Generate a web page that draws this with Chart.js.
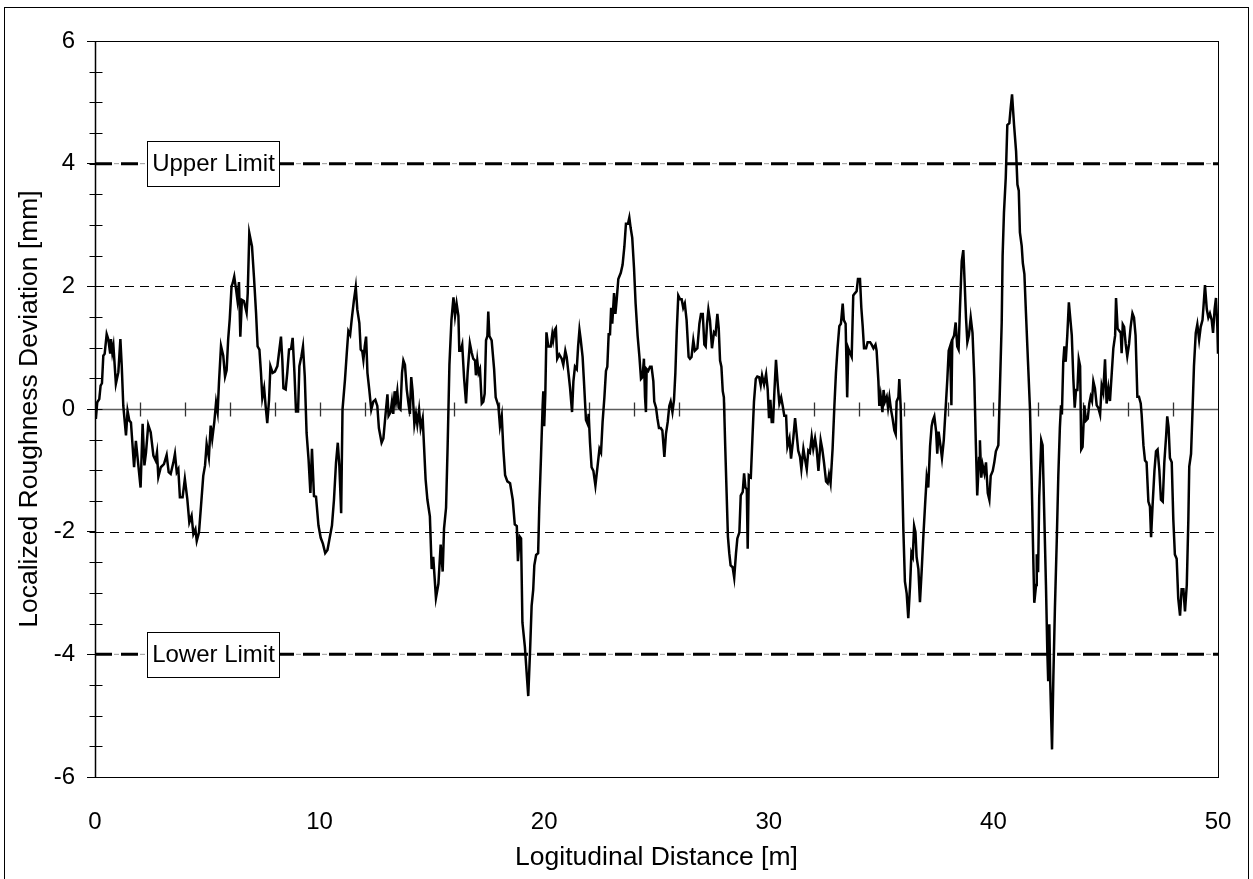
<!DOCTYPE html>
<html>
<head>
<meta charset="utf-8">
<title>Localized Roughness Deviation</title>
<script src="https://cdn.jsdelivr.net/npm/chart.js@4.4.1/dist/chart.umd.min.js"></script>
<style>
  html, body { margin: 0; padding: 0; background: #fff; }
  #wrap { position: relative; width: 1253px; height: 879px; overflow: hidden; }
  #roughChart { position: absolute; left: 0; top: 0; }
  #frame { position: absolute; left: 4px; top: 7px; width: 1245px; height: 900px;
           border: 1px solid #000; box-sizing: border-box; pointer-events: none; }
</style>
</head>
<body>
<div id="wrap">
  <canvas id="roughChart" width="1253" height="879"></canvas>
  <div id="frame"></div>
</div>
<script>
// profile: longitudinal distance [m] and localized roughness deviation [mm]
const distance = [
  0.00,0.04,0.10,0.19,0.25,0.31,0.37,0.43,0.52,0.59,
  0.67,0.71,0.77,0.82,0.93,1.04,1.13,1.19,1.26,1.38,
  1.45,1.53,1.60,1.74,1.82,1.93,2.03,2.12,2.20,2.27,
  2.37,2.48,2.60,2.70,2.76,2.82,2.93,3.07,3.19,3.28,
  3.37,3.49,3.56,3.64,3.71,3.78,3.90,4.00,4.11,4.20,
  4.30,4.38,4.47,4.53,4.63,4.72,4.82,4.90,4.97,5.07,
  5.15,5.22,5.31,5.39,5.46,5.52,5.61,5.71,5.79,5.86,
  5.93,6.00,6.08,6.13,6.20,6.28,6.34,6.41,6.47,6.54,
  6.63,6.75,6.80,6.87,6.93,6.99,7.08,7.17,7.24,7.32,
  7.39,7.45,7.53,7.60,7.67,7.75,7.81,7.91,8.01,8.12,
  8.21,8.28,8.34,8.39,8.49,8.56,8.64,8.73,8.80,8.88,
  8.95,9.04,9.10,9.19,9.26,9.34,9.42,9.51,9.59,9.66,
  9.75,9.84,9.95,10.05,10.15,10.25,10.35,10.45,10.55,10.64,
  10.73,10.81,10.88,10.96,11.02,11.13,11.21,11.28,11.36,11.43,
  11.53,11.61,11.68,11.77,11.83,11.90,11.95,12.01,12.07,12.13,
  12.21,12.30,12.39,12.48,12.57,12.64,12.76,12.84,12.93,13.02,
  13.07,13.16,13.22,13.28,13.34,13.40,13.46,13.52,13.60,13.67,
  13.73,13.80,13.88,13.97,14.02,14.08,14.14,14.22,14.29,14.35,
  14.43,14.50,14.59,14.65,14.72,14.80,14.91,14.99,15.06,15.18,
  15.29,15.39,15.48,15.54,15.63,15.70,15.78,15.87,15.96,16.03,
  16.10,16.18,16.22,16.28,16.35,16.43,16.52,16.59,16.69,16.77,
  16.84,16.92,16.96,17.02,17.08,17.14,17.22,17.29,17.35,17.41,
  17.47,17.51,17.56,17.66,17.77,17.84,17.96,18.03,18.11,18.18,
  18.26,18.36,18.48,18.60,18.69,18.78,18.83,18.91,18.97,19.03,
  19.14,19.29,19.37,19.44,19.51,19.56,19.64,19.73,19.78,19.86,
  19.93,19.96,20.00,20.05,20.10,20.18,20.29,20.36,20.40,20.47,
  20.52,20.58,20.67,20.78,20.85,20.94,21.00,21.08,21.15,21.24,
  21.30,21.37,21.45,21.51,21.57,21.62,21.71,21.77,21.86,21.94,
  21.98,22.04,22.11,22.19,22.28,22.37,22.46,22.53,22.60,22.68,
  22.75,22.81,22.87,22.93,22.98,23.03,23.11,23.17,23.23,23.30,
  23.41,23.49,23.57,23.64,23.73,23.79,23.85,23.92,24.00,24.07,
  24.16,24.24,24.31,24.38,24.44,24.49,24.53,24.56,24.63,24.71,
  24.78,24.86,24.90,24.98,25.04,25.11,25.19,25.26,25.35,25.42,
  25.50,25.57,25.63,25.71,25.78,25.84,25.90,25.97,26.05,26.12,
  26.19,26.26,26.34,26.43,26.49,26.56,26.64,26.71,26.82,26.91,
  26.98,27.06,27.13,27.19,27.25,27.31,27.38,27.47,27.56,27.63,
  27.71,27.77,27.83,27.89,27.95,28.00,28.06,28.12,28.18,28.24,
  28.30,28.39,28.46,28.54,28.60,28.69,28.75,28.84,28.90,28.96,
  29.02,29.06,29.11,29.20,29.27,29.34,29.42,29.49,29.57,29.64,
  29.70,29.79,29.88,29.95,30.01,30.07,30.13,30.19,30.25,30.32,
  30.40,30.47,30.55,30.62,30.69,30.77,30.83,30.92,30.99,31.09,
  31.17,31.24,31.31,31.39,31.45,31.54,31.61,31.69,31.76,31.83,
  31.91,31.98,32.06,32.13,32.21,32.31,32.38,32.46,32.55,32.62,
  32.68,32.75,32.84,32.92,32.99,33.06,33.14,33.21,33.29,33.34,
  33.42,33.49,33.54,33.61,33.69,33.76,33.84,33.91,33.97,34.06,
  34.12,34.18,34.24,34.33,34.40,34.51,34.58,34.66,34.75,34.80,
  34.88,34.92,34.98,35.06,35.11,35.17,35.25,35.31,35.37,35.44,
  35.51,35.59,35.65,35.69,35.77,35.81,35.87,35.93,35.99,36.06,
  36.14,36.21,36.29,36.35,36.41,36.47,36.53,36.58,36.66,36.73,
  36.81,36.88,36.96,37.03,37.10,37.18,37.25,37.30,37.37,37.45,
  37.50,37.56,37.64,37.71,37.79,37.87,37.95,38.01,38.07,38.13,
  38.17,38.25,38.32,38.39,38.45,38.51,38.59,38.66,38.72,38.78,
  38.84,38.91,38.99,39.07,39.15,39.22,39.28,39.36,39.40,39.46,
  39.52,39.60,39.67,39.75,39.82,39.88,39.97,40.04,40.11,40.22,
  40.29,40.37,40.41,40.47,40.55,40.62,40.71,40.77,40.83,40.92,
  41.01,41.07,41.13,41.18,41.26,41.31,41.38,41.45,41.54,41.63,
  41.70,41.78,41.82,41.90,41.93,41.99,42.04,42.13,42.19,42.27,
  42.34,42.40,42.44,42.49,42.53,42.61,42.67,42.74,42.82,42.89,
  42.96,43.01,43.05,43.11,43.16,43.22,43.29,43.36,43.49,43.56,
  43.62,43.68,43.74,43.80,43.86,43.91,43.97,44.05,44.12,44.20,
  44.27,44.33,44.39,44.45,44.52,44.60,44.67,44.75,44.82,44.89,
  44.97,45.04,45.12,45.19,45.27,45.34,45.42,45.46,45.53,45.61,
  45.67,45.71,45.76,45.82,45.89,45.96,46.04,46.11,46.19,46.26,
  46.33,46.41,46.48,46.56,46.60,46.68,46.75,46.82,46.90,46.97,
  47.02,47.09,47.17,47.24,47.31,47.39,47.46,47.54,47.61,47.69,
  47.74,47.80,47.86,47.94,48.01,48.08,48.16,48.23,48.31,48.38,
  48.46,48.53,48.61,48.68,48.72,48.80,48.86,48.93,49.01,49.08,
  49.16,49.23,49.31,49.36,49.42,49.50,49.57,49.64,49.72,49.78,
  49.85,49.91,49.97,50.00
];
const deviation = [
  0.00,-0.16,0.11,0.16,0.38,0.42,0.87,0.90,1.22,1.14,
  0.92,1.14,0.92,1.03,0.41,0.60,1.14,0.71,0.05,-0.43,
  -0.03,-0.19,-0.22,-0.95,-0.52,-0.92,-1.28,-0.24,-0.92,-0.71,
  -0.26,-0.38,-0.76,-0.84,-0.71,-1.11,-0.95,-0.90,-0.75,-1.03,
  -1.06,-0.87,-0.73,-1.03,-0.98,-1.44,-1.44,-1.14,-1.47,-1.85,
  -1.74,-2.04,-1.96,-2.15,-2.01,-1.58,-1.09,-0.92,-0.57,-0.79,
  -0.27,-0.49,-0.22,0.11,-0.05,0.43,1.03,0.87,0.53,0.63,
  1.14,1.47,2.00,2.05,2.16,1.95,1.78,2.07,1.18,1.78,
  1.76,1.57,1.89,2.87,2.76,2.65,2.14,1.57,1.02,0.97,
  0.59,0.18,0.34,0.04,-0.23,0.15,0.70,0.59,0.61,0.70,
  0.97,1.18,0.80,0.34,0.32,0.59,0.97,0.98,1.16,0.59,
  -0.04,-0.04,0.70,0.86,1.02,0.53,-0.39,-0.83,-1.37,-0.65,
  -1.42,-1.43,-1.90,-2.10,-2.20,-2.35,-2.30,-2.10,-1.90,-1.48,
  -0.88,-0.55,-0.93,-1.70,-0.01,0.48,0.91,1.27,1.21,1.46,
  1.78,1.99,1.62,1.40,0.97,0.94,0.80,1.02,1.18,0.59,
  0.32,-0.01,0.12,0.15,0.05,-0.31,-0.55,-0.48,-0.11,0.24,
  -0.11,-0.05,0.12,-0.08,0.29,0.12,0.29,0.02,-0.01,0.59,
  0.79,0.72,0.32,0.05,-0.08,0.52,0.29,-0.25,-0.08,-0.25,
  -0.01,-0.31,-0.15,-0.61,-1.15,-1.48,-1.75,-2.61,-2.41,-3.08,
  -2.85,-2.21,-2.65,-1.95,-1.61,-0.61,0.72,1.45,1.82,1.52,
  1.72,1.52,0.95,0.95,1.05,0.52,0.09,0.59,1.07,0.92,
  0.82,0.79,0.55,0.79,0.59,0.65,0.09,0.12,0.25,1.12,
  1.19,1.59,1.19,1.12,0.65,0.19,0.05,-0.28,-0.11,-0.65,
  -1.08,-1.18,-1.21,-1.48,-1.88,-1.91,-2.48,-2.08,-2.11,-3.48,
  -3.88,-4.68,-3.95,-3.21,-2.95,-2.55,-2.38,-2.35,-1.61,-0.75,
  0.05,0.29,-0.28,0.25,1.25,1.02,1.02,1.22,1.12,1.29,
  1.32,0.82,0.89,0.82,0.72,0.95,0.85,0.59,0.35,-0.05,
  0.45,0.69,0.65,1.02,1.29,1.15,0.85,0.45,-0.18,-0.25,
  -0.08,-0.55,-0.95,-1.01,-1.25,-0.95,-0.65,-0.71,-0.21,0.19,
  0.62,0.69,1.22,1.22,1.65,1.39,1.89,1.55,1.79,2.12,
  2.22,2.35,2.65,3.02,3.02,3.12,2.95,2.79,2.29,1.72,
  1.19,0.85,0.49,0.52,0.82,0.19,-0.05,0.65,0.62,0.69,
  0.69,0.45,0.12,0.02,-0.15,-0.31,-0.31,-0.35,-0.78,-0.41,
  -0.21,0.05,0.12,-0.05,0.15,0.59,1.25,1.85,1.79,1.79,
  1.65,1.72,1.45,0.85,0.82,0.85,1.12,0.95,0.99,1.39,
  1.55,1.55,1.05,1.02,1.39,1.62,1.45,0.99,1.25,1.22,
  1.55,1.32,0.79,0.69,0.29,0.19,-0.61,-1.35,-2.08,-2.35,
  -2.55,-2.58,-2.75,-2.35,-2.11,-2.01,-1.41,-1.35,-1.05,-1.28,
  -1.31,-2.28,-1.08,-1.11,-0.48,0.12,0.49,0.53,0.52,0.39,
  0.55,0.40,0.57,0.32,-0.15,0.15,-0.21,-0.21,0.29,0.80,
  0.39,0.09,0.19,0.05,-0.11,-0.11,-0.61,-0.48,-0.81,-0.48,
  -0.15,-0.41,-0.68,-0.78,-0.98,-0.65,-0.81,-0.98,-0.68,-0.71,
  -0.45,-0.65,-0.48,-0.65,-1.01,-0.51,-0.65,-0.88,-1.18,-1.21,
  -1.07,-1.21,-0.65,0.05,0.59,0.99,1.35,1.39,1.72,1.45,
  1.39,0.19,0.99,0.92,0.85,1.85,1.89,1.92,2.12,2.12,
  1.65,1.35,0.99,0.99,1.09,1.09,1.05,0.99,1.05,0.95,
  0.45,0.05,0.22,-0.05,0.31,0.12,0.20,0.02,0.19,-0.01,
  -0.15,-0.35,-0.41,0.12,0.19,0.49,0.05,-0.95,-1.95,-2.81,
  -3.01,-3.41,-2.88,-2.35,-2.41,-1.91,-2.01,-2.41,-2.61,-3.15,
  -2.61,-2.08,-1.55,-1.11,-1.28,-0.61,-0.28,-0.19,-0.12,-0.37,
  -0.73,-0.37,-0.59,-0.80,-0.51,-0.01,0.49,0.95,1.02,0.06,
  1.13,1.20,1.41,1.02,0.97,1.63,2.41,2.59,2.06,1.49,
  1.09,1.20,1.49,1.24,0.49,-0.59,-1.41,-0.80,-0.51,-1.12,
  -0.91,-1.05,-0.87,-1.37,-1.48,-1.09,-1.01,-0.87,-0.69,-0.59,
  0.34,1.41,2.49,3.20,3.77,4.63,4.66,4.91,5.13,4.63,
  4.20,3.66,3.56,2.88,2.66,2.38,2.20,1.56,0.77,-0.01,
  -1.09,-2.51,-3.16,-2.87,-2.37,-2.66,-1.44,-0.51,-0.59,-1.80,
  -2.87,-3.94,-4.44,-3.51,-4.44,-5.55,-4.37,-3.23,-2.16,-1.09,
  -0.30,0.06,-0.09,0.77,1.02,0.77,1.20,1.74,1.20,0.49,
  0.02,0.31,0.31,0.81,0.70,-0.66,-0.62,0.06,-0.19,-0.16,
  0.09,0.20,0.13,0.45,0.34,0.06,0.02,-0.09,0.38,0.27,
  0.81,0.09,0.34,0.13,0.59,0.99,1.20,1.81,1.31,1.27,
  1.24,0.91,1.38,1.34,1.06,0.86,1.06,1.34,1.56,1.49,
  1.20,0.20,0.20,0.09,-0.09,-0.59,-0.84,-0.87,-1.51,-1.59,
  -2.09,-1.55,-1.01,-0.69,-0.66,-1.01,-1.48,-1.51,-0.87,-0.44,
  -0.12,-0.30,-0.80,-0.87,-1.80,-2.37,-2.44,-3.09,-3.37,-2.94,
  -2.94,-3.30,-2.87,-1.80,-0.94,-0.73,-0.09,0.70,1.24,1.38,
  1.13,1.34,1.45,1.70,2.02,1.63,1.49,1.56,1.45,1.24,
  1.63,1.81,1.34,0.90
];

// limit lines and their labels
const limitRange = [0, 50];
const limitValues = [4, -4];
const limitLabels = ['Upper Limit', 'Lower Limit'];
// dashed reference grid
const gridValues = [2, -2];

const FONT = "'Liberation Sans', Arial, Helvetica, sans-serif";
Chart.defaults.font.family = FONT;
Chart.defaults.color = '#000';

const profile = distance.map((d, i) => ({ x: d, y: deviation[i] }));

function limitSets(value) {
  const pts = limitRange.map(d => ({ x: d, y: value }));
  return [
    { data: pts, borderColor: '#000', borderWidth: 3, borderDash: [17, 9],
      pointRadius: 0, order: 1 },
    { data: pts, borderColor: '#9a9a9a', borderWidth: 1, borderDash: [5, 21],
      borderDashOffset: 7, pointRadius: 0, order: 2 }
  ];
}

function seg(ctx, x1, y1, x2, y2) {
  ctx.beginPath();
  ctx.moveTo(x1, y1);
  ctx.lineTo(x2, y2);
  ctx.stroke();
}

const decorations = {
  id: 'decorations',
  beforeDatasetsDraw(chart) {
    const { ctx, chartArea: a, scales: { x, y } } = chart;
    ctx.save();
    // thin dashed lines at +-2
    ctx.strokeStyle = '#000';
    ctx.lineWidth = 1;
    ctx.setLineDash([9, 6]);
    gridValues.forEach(v => {
      const py = Math.round(y.getPixelForValue(v)) + 0.5;
      seg(ctx, a.left, py, a.right, py);
    });
    ctx.setLineDash([]);
    // horizontal axis through zero with a tick every 2 m
    const y0 = Math.round(y.getPixelForValue(0)) + 0.5;
    ctx.strokeStyle = '#5c5c5c';
    ctx.lineWidth = 1.5;
    seg(ctx, a.left, y0, a.right, y0);
    ctx.strokeStyle = '#333';
    ctx.lineWidth = 1.3;
    for (let v = 2; v < 50; v += 2) {
      const px = Math.round(x.getPixelForValue(v)) + 0.5;
      seg(ctx, px, y0 - 7, px, y0 + 7);
    }
    ctx.restore();
  },
  afterDatasetsDraw(chart) {
    const { ctx, chartArea: a, scales: { x, y } } = chart;
    ctx.save();
    // plot frame
    ctx.strokeStyle = '#000';
    ctx.lineWidth = 1;
    ctx.strokeRect(Math.round(a.left) + 0.5, Math.round(a.top) + 0.5,
                   Math.round(a.right - a.left), Math.round(a.bottom - a.top));
    ctx.lineWidth = 1.5;
    const ax = Math.round(a.left) + 0.5;
    seg(ctx, ax, a.top, ax, a.bottom);
    // minor ticks crossing the vertical axis every 0.5 mm
    ctx.lineWidth = 1;
    for (let v = -5.5; v < 6; v += 0.5) {
      const py = Math.round(y.getPixelForValue(v)) + 0.5;
      seg(ctx, ax - 6, py, ax + 7, py);
    }
    // limit label boxes
    ctx.font = '24px ' + FONT;
    ctx.textAlign = 'center';
    ctx.textBaseline = 'middle';
    limitValues.forEach((v, i) => {
      const cy = y.getPixelForValue(v);
      const left = Math.round(x.getPixelForValue(0)) + 52;
      const w = 132, h = 45;
      const top = Math.round(cy - h / 2);
      ctx.fillStyle = '#fff';
      ctx.fillRect(left, top, w, h);
      ctx.strokeStyle = '#000';
      ctx.lineWidth = 1;
      ctx.strokeRect(left + 0.5, top + 0.5, w, h);
      ctx.fillStyle = '#000';
      ctx.fillText(limitLabels[i], left + w / 2 + 0.5, top + h / 2 + 1);
    });
    ctx.restore();
  }
};

new Chart(document.getElementById('roughChart'), {
  type: 'line',
  data: {
    datasets: [
      { data: profile, borderColor: '#000', borderWidth: 2.5, pointRadius: 0,
        tension: 0, order: 0 },
      ...limitSets(limitValues[0]),
      ...limitSets(limitValues[1])
    ]
  },
  options: {
    responsive: false,
    animation: false,
    events: [],
    layout: { padding: { top: 41, right: 35, left: 0, bottom: 0 } },
    plugins: { legend: { display: false }, tooltip: { enabled: false } },
    scales: {
      x: {
        type: 'linear', min: 0, max: 50,
        ticks: { stepSize: 10, font: { size: 24 }, color: '#000', padding: 31, maxRotation: 0 },
        grid: { display: false, drawTicks: false },
        border: { display: false },
        title: { display: true, text: 'Logitudinal Distance [m]', color: '#000',
                 font: { size: 26.5 }, padding: { top: 0, bottom: 5 } },
        afterFit(scale) {
          // the end labels fit inside the layout padding
          scale.height = 102;
          scale.paddingLeft = 0;
          scale.paddingRight = 0;
        }
      },
      y: {
        min: -6, max: 6,
        ticks: { stepSize: 2, font: { size: 24 }, color: '#000', padding: 12 },
        grid: { drawOnChartArea: false, drawTicks: true, tickLength: 8,
                tickColor: '#000', tickWidth: 1 },
        border: { display: false },
        title: { display: true, text: 'Localized Roughness Deviation [mm]', color: '#000',
                 font: { size: 26.5 }, padding: { top: 14, bottom: 0 } },
        afterFit(scale) { scale.width = 95; }
      }
    }
  },
  plugins: [decorations]
});
</script>
</body>
</html>
